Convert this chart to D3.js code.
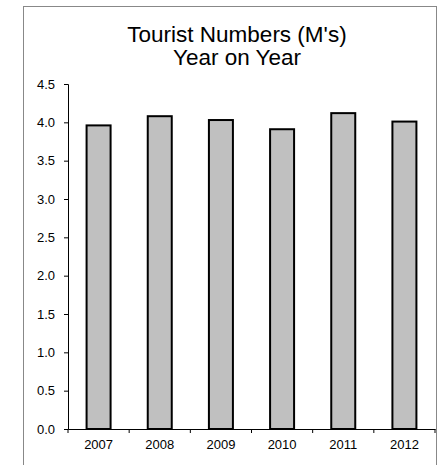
<!DOCTYPE html>
<html><head><meta charset="utf-8">
<script src="https://cdn.jsdelivr.net/npm/d3@7"></script>
<style>body{margin:0;background:#fff;font-family:"Liberation Sans",Arial,sans-serif}</style>
</head><body><div id="chart"></div>
<script>
const years = ['2007', '2008', '2009', '2010', '2011', '2012']
const tourists = [3.96, 4.08, 4.03, 3.91, 4.12, 4.01]
const yTicks = [0, 0.5, 1, 1.5, 2, 2.5, 3, 3.5, 4, 4.5]

const svg = d3.select('#chart').append('svg').attr('width', 440).attr('height', 465)

// outer frame
svg.append('rect').attr('x', 23.5).attr('y', 6.5).attr('width', 413).attr('height', 470)
  .attr('fill', 'none').attr('stroke', '#888').attr('stroke-width', 1)

const plotLeft = 68, plotRight = 435, plotTop = 84, plotBottom = 429
const x = d3.scaleBand().domain(years).range([plotLeft, plotRight])
const y = d3.scaleLinear().domain([0, 4.5]).range([plotBottom, plotTop])

svg.append('text').attr('x', 237).attr('y', 42).attr('text-anchor', 'middle')
  .attr('font-size', 22.5).text("Tourist Numbers (M's)")
svg.append('text').attr('x', 237).attr('y', 65).attr('text-anchor', 'middle')
  .attr('font-size', 22.5).text('Year on Year')

svg.selectAll('rect.bar').data(tourists).enter().append('rect')
  .attr('class', 'bar')
  .attr('x', (d, i) => x(years[i]) + x.bandwidth() / 2 - 12)
  .attr('width', 24)
  .attr('y', d => y(d))
  .attr('height', d => plotBottom - y(d))
  .attr('fill', '#c0c0c0').attr('stroke', '#000').attr('stroke-width', 2)

const yAxis = svg.append('g').attr('transform', `translate(${plotLeft},0)`)
  .call(d3.axisLeft(y).tickValues(yTicks).tickFormat(d3.format('.1f')).tickSize(4))
yAxis.selectAll('text').attr('font-size', 13).attr('font-family', 'Liberation Sans, Arial').attr('x', -13)

const xAxis = svg.append('g').attr('transform', `translate(0,${plotBottom})`)
  .call(d3.axisBottom(x).tickSize(0).tickPadding(11))
xAxis.selectAll('text').attr('font-size', 13).attr('font-family', 'Liberation Sans, Arial')
xAxis.selectAll('.sep').data(d3.range(years.length + 1)).enter().append('line')
  .attr('x1', i => plotLeft + i * x.step()).attr('x2', i => plotLeft + i * x.step())
  .attr('y1', 0).attr('y2', 4).attr('stroke', '#000')
svg.selectAll('.domain').attr('stroke', '#000')
</script></body></html>
